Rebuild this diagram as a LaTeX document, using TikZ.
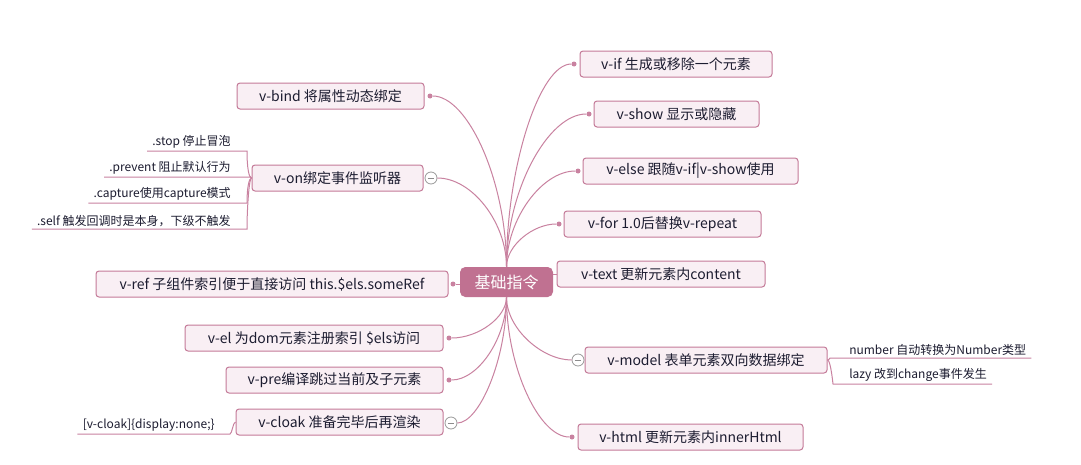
\documentclass[tikz,border=0pt]{standalone}
\usepackage{fontspec}
\setmainfont{Noto Sans CJK SC}
\usepackage{tikz}

\definecolor{rootfill}{RGB}{192,113,145}
\definecolor{boxfill}{RGB}{249,239,244}
\definecolor{boxline}{RGB}{196,122,152}
\definecolor{branch}{RGB}{201,130,160}
\definecolor{inktext}{RGB}{28,28,48}

\tikzset{
  topic/.style={draw=boxline, fill=boxfill, line width=0.75pt, rounded corners=2.25pt,
    minimum height=19.5pt, inner sep=0pt, text=inktext, font=\fontsize{10.5pt}{12pt}\selectfont},
  roottopic/.style={fill=rootfill, rounded corners=4pt, minimum width=69.75pt,
    minimum height=22.5pt, inner sep=0pt, text=white, font=\fontsize{12pt}{14pt}\selectfont},
  subtext/.style={inner xsep=3.75pt, inner ysep=1.5pt, text=inktext, font=\fontsize{9pt}{10pt}\selectfont},
  knob/.style={circle, fill=branch, inner sep=0pt, minimum size=3.75pt},
  fold/.style={circle, draw=gray!80, fill=white, line width=0.6pt, inner sep=0pt, minimum size=9pt,
    path picture={\draw[gray!90, line width=0.6pt] ([xshift=-2.6pt]path picture bounding box.center) -- ([xshift=2.6pt]path picture bounding box.center);}},
  branch/.style={draw=branch, line width=0.75pt},
}

\begin{document}
\begin{tikzpicture}[x=0.75pt,y=0.75pt,yscale=-1,xscale=1]
            \useasboundingbox[fill=white] (0,0) rectangle (1081,464);
            % central topic
            \node [roottopic] (root) at (506.5,282) {基础指令};
            % left topics
            \node [topic, minimum width=140.25pt] (bind) at (330.5,96) {v-bind 将属性动态绑定};
            \node [topic, minimum width=128.25pt] (on) at (337.5,178) {v-on绑定事件监听器};
            \node [topic, minimum width=264pt] (ref) at (272,284) {v-ref 子组件索引便于直接访问 this.\$els.someRef};
            \node [topic, minimum width=193.5pt] (el) at (314,338) {v-el 为dom元素注册索引 \$els访问};
            \node [topic, minimum width=162.75pt] (pre) at (334.5,380) {v-pre编译跳过当前及子元素};
            \node [topic, minimum width=155.25pt] (cloak) at (339.5,422) {v-cloak 准备完毕后再渲染};
            % right topics
            \node [topic, minimum width=144pt] (if) at (676,64) {v-if 生成或移除一个元素};
            \node [topic, minimum width=123.75pt] (show) at (676.5,114) {v-show 显示或隐藏};
            \node [topic, minimum width=161.25pt] (else) at (690.5,171) {v-else 跟随v-if|v-show使用};
            \node [topic, minimum width=147.75pt] (for) at (662.5,224) {v-for 1.0后替换v-repeat};
            \node [topic, minimum width=156pt] (text) at (661,274) {v-text 更新元素内content};
            \node [topic, minimum width=181.5pt] (model) at (706,360) {v-model 表单元素双向数据绑定};
            \node [topic, minimum width=168.75pt] (html) at (690.5,437) {v-html 更新元素内innerHtml};
            % knobs and fold marks
            \node [knob] (bindDot) at (430,96) {};
            \node [fold] (onFold) at (431,178) {};
            \node [knob] (refDot) at (453,284) {};
            \node [knob] (elDot) at (449,338) {};
            \node [knob] (preDot) at (449,380) {};
            \node [fold] (cloakFold) at (451,423) {};
            \node [knob] (ifDot) at (574,64) {};
            \node [knob] (showDot) at (589,114) {};
            \node [knob] (elseDot) at (578,171) {};
            \node [knob] (forDot) at (559,224) {};
            \node [fold] (modelFold) at (578,360) {};
            \node [knob] (htmlDot) at (572,437) {};
            % branches from the central topic
            \draw [branch] (root.north) .. controls (506.5,181.5) and (468,96) .. (bindDot);
            \draw [branch] (root.north) .. controls (506.5,222.5) and (472,178) .. (onFold);
            \draw [branch] (root.north) .. controls (506.5,165.5) and (540,64) .. (ifDot);
            \draw [branch] (root.north) .. controls (506.5,190.5) and (548,114) .. (showDot);
            \draw [branch] (root.north) .. controls (506.5,219) and (542,171) .. (elseDot);
            \draw [branch] (root.north) .. controls (506.5,245.5) and (533,224) .. (forDot);
            \draw [branch] (root.south) .. controls (506.5,317.5) and (478,338) .. (elDot);
            \draw [branch] (root.south) .. controls (506.5,338.5) and (478,380) .. (preDot);
            \draw [branch] (root.south) .. controls (506.5,360) and (479,423) .. (cloakFold);
            \draw [branch] (root.south) .. controls (506.5,328.5) and (542,360) .. (modelFold);
            \draw [branch] (root.south) .. controls (506.5,367) and (539,437) .. (htmlDot);
            \draw [branch] (refDot) -- (refDot -| root.west);
            \draw [branch] (root.east |- text.west) -- (text.west);
            % v-on details
            \coordinate (stopR) at (247,151);
            \coordinate (preventR) at (250,177);
            \coordinate (captureR) at (247,203);
            \coordinate (selfR) at (247,229);
            \node [subtext, anchor=south east] (stop) at (236,151) {.stop 停止冒泡};
            \node [subtext, anchor=south east] (prevent) at (236,177) {.prevent 阻止默认行为};
            \node [subtext, anchor=south east] (capture) at (236,203) {.capture使用capture模式};
            \node [subtext, anchor=south east] (self) at (236,229) {.self 触发回调时是本身，下级不触发};
            \draw [branch] (on.west) .. controls (249,178) and (247,168) .. (stopR) -- (stop.south west);
            \draw [branch] (on.west) .. controls (251,178) and (250,177) .. (preventR) -- (prevent.south west);
            \draw [branch] (on.west) .. controls (249,178) and (247,188) .. (captureR) -- (capture.south west);
            \draw [branch] (on.west) .. controls (249,178) and (247,210) .. (selfR) -- (self.south west);
            % v-cloak detail
            \coordinate (cssR) at (230,434);
            \node [subtext, anchor=south east] (css) at (220,434) {[v-cloak]\{display:none;\}};
            \draw [branch] (cloak.west) .. controls (233,422) and (232,434) .. (cssR) -- (css.south west);
            % v-model details
            \coordinate (numberL) at (830,358);
            \coordinate (lazyL) at (833,384);
            \node [subtext, anchor=south west] (number) at (844,358) {number 自动转换为Number类型};
            \node [subtext, anchor=south west] (lazy) at (844,384) {lazy 改到change事件发生};
            \draw [branch] (model.east) .. controls (829,360) and (830,358) .. (numberL) -- (number.south east);
            \draw [branch] (model.east) .. controls (830,360) and (832,375) .. (lazyL) -- (lazy.south east);
          \end{tikzpicture}
\end{document}
